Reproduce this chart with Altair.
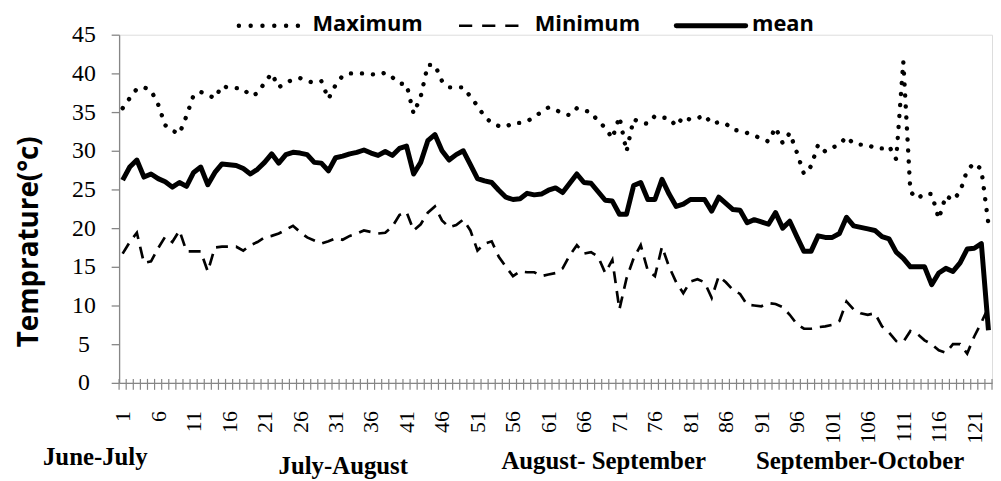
import altair as alt
import pandas as pd

days = list(range(1, 124))

max_vals = [35.5, 36.8, 38.0, 38.2, 37.8, 36.0, 33.3, 32.6, 32.2, 34.5,
            37.2, 37.6, 37.2, 36.8, 38.4, 38.1, 38.1, 38.0, 37.1, 37.4,
            38.8, 40.0, 38.2, 38.8, 39.2, 39.4, 39.0, 38.8, 39.0, 36.7,
            38.5, 39.7, 40.0, 40.0, 40.0, 39.9, 39.8, 40.1, 39.5, 38.7,
            38.6, 34.8, 37.0, 41.1, 41.1, 39.0, 38.2, 38.2, 38.2, 37.0,
            35.8, 34.4, 33.6, 33.2, 33.1, 33.6, 33.6, 33.8, 34.4, 35.0,
            35.6, 35.3, 34.8, 34.6, 35.5, 35.2, 35.0, 33.8, 33.0, 31.6,
            34.4, 29.9, 34.1, 33.6, 33.5, 34.5, 34.3, 34.2, 33.2, 34.4,
            34.0, 34.2, 34.6, 33.5, 33.7, 33.5, 32.7, 32.6, 32.3, 32.0,
            31.5, 31.2, 33.0, 31.0, 32.3, 29.8, 27.0, 28.0, 30.8, 29.9,
            30.4, 30.8, 31.8, 30.9, 30.8, 30.8, 30.3, 30.3, 30.6, 28.9,
            41.5, 24.7, 23.8, 24.5, 24.4, 21.2, 24.2, 23.6, 24.7, 27.5,
            28.4, 27.6, 20.5]

min_vals = [16.7, 18.2, 19.4, 15.5, 15.7, 17.4, 18.9, 18.2, 19.7, 17.0,
            17.0, 17.0, 14.4, 17.5, 17.6, 17.6, 17.6, 17.1, 17.8, 18.2,
            18.8, 19.0, 19.3, 19.8, 20.3, 19.5, 18.8, 18.4, 18.0, 18.3,
            18.7, 18.5, 19.0, 19.3, 19.7, 19.5, 19.3, 19.4, 20.2, 21.7,
            22.1, 19.7, 20.5, 22.0, 22.8, 21.0, 20.1, 20.4, 21.1, 19.7,
            17.1, 18.0, 18.3, 16.3, 15.0, 13.8, 14.4, 14.3, 14.3, 13.8,
            14.0, 14.2, 14.8, 16.5, 17.8, 16.7, 16.9, 16.3, 14.2, 15.9,
            9.5, 13.5, 16.1, 17.8, 14.5, 13.8, 17.6, 15.0, 13.0, 11.6,
            13.1, 13.4, 13.0, 11.0, 13.8, 13.0, 12.0, 11.5, 10.1, 10.0,
            9.9, 10.3, 10.2, 9.8, 8.8, 7.6, 7.0, 7.0, 7.2, 7.3,
            7.5, 8.0, 10.5, 9.5, 9.0, 8.8, 9.0, 7.3, 6.5, 5.4,
            5.3, 6.7, 6.3, 5.5, 5.0, 4.2, 3.9, 5.0, 5.0, 3.8,
            6.0, 7.8, 9.8]

mean_vals = [26.2, 27.9, 28.8, 26.6, 27.0, 26.4, 26.0, 25.3, 25.9, 25.4,
             27.2, 27.9, 25.6, 27.2, 28.3, 28.2, 28.1, 27.7, 27.0, 27.6,
             28.5, 29.6, 28.4, 29.5, 29.8, 29.7, 29.5, 28.5, 28.4, 27.4,
             29.1, 29.3, 29.6, 29.8, 30.1, 29.7, 29.4, 29.9, 29.4, 30.3,
             30.6, 27.0, 28.5, 31.3, 32.1, 30.0, 28.8, 29.5, 30.0, 28.2,
             26.4, 26.1, 25.9, 24.9, 24.0, 23.7, 23.8, 24.5, 24.3, 24.4,
             24.9, 25.2, 24.6, 25.8, 27.0, 25.9, 25.8, 24.7, 23.6, 23.5,
             21.8, 21.8, 25.5, 25.9, 23.7, 23.7, 26.3, 24.4, 22.8, 23.1,
             23.7, 23.7, 23.7, 22.2, 24.0, 23.2, 22.4, 22.3, 20.7, 21.1,
             20.8, 20.5, 22.0, 20.0, 20.9, 18.9, 17.0, 17.0, 19.0, 18.8,
             18.8, 19.3, 21.4, 20.3, 20.1, 19.9, 19.7, 18.9, 18.6, 16.9,
             16.1, 15.0, 15.0, 15.0, 12.7, 14.2, 14.8, 14.4, 15.5, 17.3,
             17.4, 18.0, 6.8]

series_names = ["Maximum", "Minimum", "mean"]
label_days = list(range(1, 124, 5))
y_ticks = list(range(0, 50, 5))
month_labels = ["June-July", "July-August", "August- September", "September-October"]
y_title = "Temprature(°c)"

GRAY = "#868686"
PLOT_W, PLOT_H = 880, 351

df = pd.DataFrame({
    "day": days * 3,
    "value": max_vals + min_vals + mean_vals,
    "series": [series_names[0]] * len(days) + [series_names[1]] * len(days) + [series_names[2]] * len(days),
})
boundaries = pd.DataFrame({"day": [d - 0.5 for d in days] + [days[-1] + 0.5]})

xscale = alt.Scale(domain=[0.5, 123.5], nice=False, zero=False)
yscale = alt.Scale(domain=[0, 45], nice=False, zero=True)

x_axis = alt.Axis(values=label_days, labelAngle=270, labelFont="Liberation Serif",
                  labelFontSize=22, labelColor="black", ticks=False, tickSize=0,
                  labelPadding=28, title=None, domainColor=GRAY, domainWidth=1.3,
                  labelOverlap=False, labelFlush=False, grid=False)
y_axis = alt.Axis(values=y_ticks, tickSize=8, tickColor=GRAY, tickWidth=1.3,
                  labelPadding=28, labelAlign="center", labelFont="Liberation Serif",
                  labelFontSize=24, labelColor="black", title=None, domainColor=GRAY,
                  domainWidth=1.3, grid=False)

base = alt.Chart(df).encode(
    x=alt.X("day:Q", scale=xscale, axis=x_axis),
    y=alt.Y("value:Q", scale=yscale, axis=y_axis),
)

max_line = base.transform_filter(alt.datum.series == series_names[0]).mark_line(
    color="black", strokeWidth=4.4, strokeDash=[0.1, 11], strokeCap="round")
min_line = base.transform_filter(alt.datum.series == series_names[1]).mark_line(
    color="black", strokeWidth=2.7, strokeDash=[12, 8])
mean_line = base.transform_filter(alt.datum.series == series_names[2]).mark_line(
    color="black", strokeWidth=5, strokeJoin="round")

ticks = alt.Chart(boundaries).mark_rule(color=GRAY, strokeWidth=1.2).encode(
    x=alt.X("day:Q", scale=xscale, axis=x_axis),
    y=alt.value(PLOT_H - 4), y2=alt.value(PLOT_H + 7),
)

one = pd.DataFrame({"k": [0]})

def legend_symbol(x1, x2, **style):
    return alt.Chart(one).mark_rule(color="black", **style).encode(
        x=alt.value(x1), x2=alt.value(x2), y=alt.value(-9))

def free_text(txt, x, y, **style):
    return alt.Chart(one).mark_text(text=txt, color="black", **style).encode(
        x=alt.value(x), y=alt.value(y))

legend_font = dict(font="Open Sans", fontWeight="bold", fontSize=22, align="left", baseline="alphabetic")
month_font = dict(font="Liberation Serif", fontWeight="bold", fontSize=25, align="center", baseline="alphabetic")

layers = [
    ticks, min_line, max_line, mean_line,
    legend_symbol(120.7, 181, strokeWidth=4.4, strokeDash=[0.1, 11.8], strokeCap="round"),
    legend_symbol(342.7, 402.7, strokeWidth=2.7, strokeDash=[13.3, 10]),
    legend_symbol(561.7, 631.7, strokeWidth=5, strokeCap="round"),
    free_text(series_names[0], 195, -3.5, **legend_font),
    free_text(series_names[1], 419, -3.5, **legend_font),
    free_text(series_names[2], 638, -3.5, **legend_font),
    free_text(month_labels[0], -24, 434, **month_font),
    free_text(month_labels[1], 226, 443, **month_font),
    free_text(month_labels[2], 488.5, 437.5, **month_font),
    free_text(month_labels[3], 747, 437.5, **month_font),
    free_text(y_title, -90, 208.7, font="Open Sans", fontWeight="bold", fontSize=28,
              angle=270, align="center", baseline="middle"),
]

chart = alt.layer(*layers).properties(
    width=PLOT_W, height=PLOT_H,
    autosize=alt.AutoSizeParams(type="none"),
    padding={"left": 112, "top": 25, "right": 1, "bottom": 97},
).configure_view(stroke=None).configure(background="white")

chart.save("out.html", embed_options={"renderer": "svg", "actions": False})
